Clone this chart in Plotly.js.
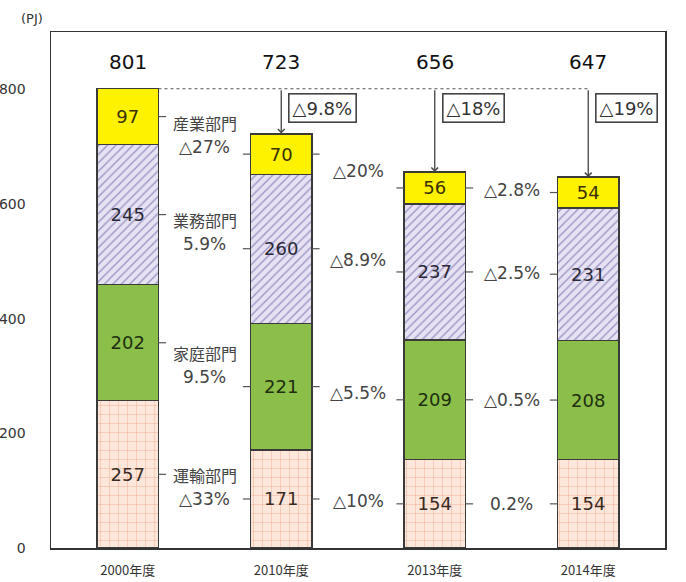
<!DOCTYPE html>
<html>
<head>
<meta charset="utf-8">
<script src="https://cdn.plot.ly/plotly-3.0.1.min.js"></script>
<style>html,body{margin:0;padding:0;background:#fff;}#chart{width:686px;height:582px;}</style>
</head>
<body>
<div id="chart"></div>
<script>
// ---- data ----
const categories = ['2000年度', '2010年度', '2013年度', '2014年度'];
const transport = [257, 171, 154, 154];   // 運輸部門
const household = [202, 221, 209, 208];   // 家庭部門
const business  = [245, 260, 237, 231];   // 業務部門
const industry  = [97, 70, 56, 54];       // 産業部門
const totals = [801, 723, 656, 647];
const sectorNames = ['運輸部門', '家庭部門', '業務部門', '産業部門']; // bottom -> top
const change2000to2010 = ['△33%', '9.5%', '5.9%', '△27%'];
const change2010to2013 = ['△10%', '△5.5%', '△8.9%', '△20%'];
const change2013to2014 = ['0.2%', '△0.5%', '△2.5%', '△2.8%'];
const totalChange = ['△9.8%', '△18%', '△19%']; // vs 2000
const yTicks = [0, 200, 400, 600, 800];
const yUnit = '(PJ)';

// ---- styling ----
const FONT = 'DejaVu Sans, Noto Sans CJK JP, sans-serif';
const JFONT = 'Noto Sans CJK JP, DejaVu Sans, sans-serif';
const BAR_W = 0.4;
const series = [transport, household, business, industry];
const styles = [
  {color: '#fde6da', pattern: {shape: '+', bgcolor: '#fde6da', fgcolor: '#f0b4a0', size: 9, solidity: 0.12}, tcolor: '#3a2a22'},
  {color: '#8cbf4a', pattern: null, tcolor: '#1e2e10'},
  {color: '#e4e0f2', pattern: {shape: '/', bgcolor: '#e6e2f3', fgcolor: '#9a92c2', size: 6, solidity: 0.22}, tcolor: '#2a2838'},
  {color: '#fff200', pattern: null, tcolor: '#3a3000'}
];

const traces = series.map((vals, k) => {
  const m = {color: styles[k].color, line: {color: '#3a3a3a', width: 1.3}};
  if (styles[k].pattern) m.pattern = Object.assign({fillmode: 'replace'}, styles[k].pattern);
  return {
    type: 'bar', x: categories, y: vals, name: sectorNames[k],
    width: BAR_W, marker: m,
    text: vals.map(String), textposition: 'inside', insidetextanchor: 'middle',
    textangle: 0, constraintext: 'none',
    textfont: {family: FONT, size: 18, color: styles[k].tcolor},
    hoverinfo: 'x+y+name'
  };
});

// segment midpoints
const mids = series.map((vals, k) => vals.map((v, i) => {
  let base = 0; for (let j = 0; j < k; j++) base += series[j][i];
  return base + v / 2;
}));

const annotations = [];
const shapes = [];

// totals above bars
totals.forEach((t, i) => annotations.push({
  x: i, y: 847, xref: 'x', yref: 'y', text: String(t), showarrow: false,
  font: {family: FONT, size: 20, color: '#111'}
}));

// change labels between bars
const gaps = [change2000to2010, change2010to2013, change2013to2014];
gaps.forEach((labels, g) => {
  labels.forEach((lab, k) => {
    const yL = mids[k][g], yR = mids[k][g + 1];
    const yc = (yL + yR) / 2;
    if (g === 0) {
      annotations.push({
        x: g + 0.5, y: yc, xref: 'x', yref: 'y', yshift: 12, text: sectorNames[k], showarrow: false,
        font: {family: JFONT, size: 16, color: '#444'}
      });
      annotations.push({
        x: g + 0.5, y: yc, xref: 'x', yref: 'y', yshift: -12, text: lab, showarrow: false,
        font: {family: FONT, size: 17, color: '#444'}
      });
    } else {
      annotations.push({
        x: g + 0.5, y: yc, xref: 'x', yref: 'y', text: lab, showarrow: false,
        font: {family: FONT, size: 17, color: '#444'}
      });
    }
    shapes.push({type: 'line', xref: 'x', yref: 'y', x0: g + BAR_W / 2, x1: g + BAR_W / 2 + 0.05, y0: yL, y1: yL, line: {color: '#555', width: 1.2}});
    shapes.push({type: 'line', xref: 'x', yref: 'y', x0: g + 1 - BAR_W / 2 - 0.05, x1: g + 1 - BAR_W / 2, y0: yR, y1: yR, line: {color: '#555', width: 1.2}});
  });
});

// dashed reference line from 2000 total
shapes.push({type: 'line', xref: 'x', yref: 'y', x0: BAR_W / 2, x1: 3, y0: totals[0], y1: totals[0], line: {color: '#555', width: 1.2, dash: 'dot'}});

// arrows and boxed totals change
for (let i = 1; i < totals.length; i++) {
  annotations.push({
    x: i, y: totals[i], ax: i, ay: totals[0], xref: 'x', yref: 'y', axref: 'x', ayref: 'y',
    text: '', showarrow: true, arrowhead: 4, arrowsize: 1, arrowwidth: 1.3, arrowcolor: '#444',
    standoff: 0, startstandoff: 0
  });
  annotations.push({
    x: i + 0.045, y: 793, xref: 'x', yref: 'y', xanchor: 'left', yanchor: 'top',
    text: totalChange[i - 1], showarrow: false,
    font: {family: FONT, size: 18, color: '#333'},
    bordercolor: '#444', borderwidth: 1.6, borderpad: 3, bgcolor: '#fff'
  });
}

// unit label
annotations.push({
  x: 0, y: 1, xref: 'paper', yref: 'paper', xanchor: 'right', yanchor: 'bottom',
  xshift: -6, yshift: 4, text: yUnit, showarrow: false,
  font: {family: FONT, size: 13, color: '#333'}
});

const layout = {
  width: 686, height: 582,
  margin: {l: 51, r: 21, t: 32, b: 34, pad: 0},
  paper_bgcolor: '#fff', plot_bgcolor: '#fff',
  barmode: 'stack', showlegend: false,
  font: {family: FONT, color: '#333'},
  xaxis: {
    type: 'category', range: [-0.5, 3.5], showgrid: false, zeroline: false,
    showline: true, mirror: true, linecolor: '#333', linewidth: 1.5,
    ticks: '', ticklabelstandoff: 10,
    tickfont: {family: JFONT, size: 13, color: '#333'}
  },
  yaxis: {
    range: [0, 900], tickvals: yTicks, ticktext: yTicks.map(String),
    showgrid: false, zeroline: false,
    showline: true, mirror: true, linecolor: '#333', linewidth: 1.5,
    ticks: '', ticklabelstandoff: 21,
    tickfont: {family: FONT, size: 14, color: '#333'}
  },
  annotations: annotations,
  shapes: shapes
};

Plotly.newPlot('chart', traces, layout, {displayModeBar: false, staticPlot: true});
</script>
</body>
</html>
